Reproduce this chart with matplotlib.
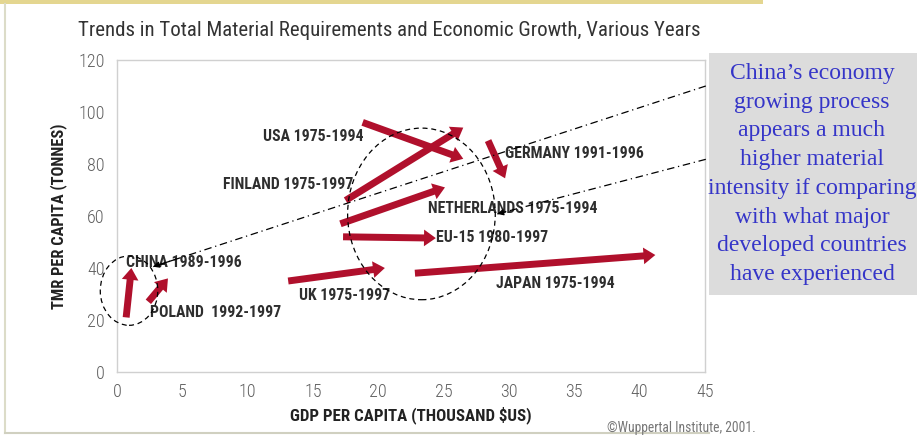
import matplotlib
matplotlib.use("Agg")
import matplotlib.pyplot as plt
from matplotlib.patches import Ellipse, FancyArrowPatch, Rectangle

# trend arrows: (GDP, TMR) at start and end of each period
countries = ["CHINA", "POLAND", "UK", "EU-15", "NETHERLANDS",
             "FINLAND", "USA", "GERMANY", "JAPAN"]
periods = ["1989-1996", "1992-1997", "1975-1997", "1980-1997", "1975-1994",
           "1975-1997", "1975-1994", "1991-1996", "1975-1994"]
gdp_start = [0.7, 2.4, 13.1, 17.3, 17.1, 17.5, 18.8, 28.4, 22.8]
gdp_end = [1.1, 3.9, 20.5, 24.4, 25.1, 26.5, 26.5, 29.7, 41.2]
tmr_start = [21, 27, 35, 52, 57, 66, 96, 89, 38]
tmr_end = [40, 36, 40, 51.5, 71, 94, 82, 74.5, 45]

# where each label sits (left edge, vertical centre)
label_pos = [(0.7, 42), (2.5, 23), (13.9, 29.5), (24.4, 51.6), (23.8, 63),
             (8.1, 72.2), (11.2, 90.6), (29.7, 84), (29.0, 34)]

x_ticks = [0, 5, 10, 15, 20, 25, 30, 35, 40, 45]
y_ticks = [0, 20, 40, 60, 80, 100, 120]

note = ("China\u2019s economy\ngrowing process\nappears a much\nhigher material\n"
        "intensity if comparing\nwith what major\ndeveloped countries\nhave experienced")

narrow = ["Roboto Condensed", "Archivo Narrow", "PT Sans Narrow",
          "IBM Plex Sans Condensed", "DejaVu Sans"]
red = "#b0102c"

fig = plt.figure(figsize=(9.17, 4.36), dpi=100)
ax = fig.add_axes([117 / 917, 64 / 436, 588 / 917, 312 / 436])

ax.set_xlim(0, 45)
ax.set_ylim(0, 120)
ax.set_xticks(x_ticks)
ax.set_yticks(y_ticks)
ax.tick_params(length=0, labelsize=13, labelcolor="#606060")
ax.tick_params(axis="y", pad=9)
ax.tick_params(axis="x", pad=8)
for lbl in ax.get_xticklabels() + ax.get_yticklabels():
    lbl.set_family(narrow)
    lbl.set_fontweight("light")
for s in ax.spines.values():
    s.set_color("#d0d0d0")
    s.set_linewidth(1)

for i, name in enumerate(countries):
    arr = FancyArrowPatch((gdp_start[i], tmr_start[i]), (gdp_end[i], tmr_end[i]),
                          arrowstyle="simple,head_length=0.85,head_width=1.2,tail_width=0.5",
                          mutation_scale=10, color=red, lw=0,
                          shrinkA=0, shrinkB=0, zorder=3)
    ax.add_patch(arr)
    sep = "  " if name == "POLAND" else " "
    ax.text(label_pos[i][0], label_pos[i][1], name + sep + periods[i],
            family=narrow, fontweight="bold", fontsize=11.3, color="#2e2e2e",
            ha="left", va="center", zorder=4)

# dashed rings round China/Poland and the developed economies
ax.add_patch(Ellipse((0.92, 31.3), 4.4, 26.7, fill=False, ls=(0, (4, 3)),
                     lw=0.9, color="black", clip_on=False, zorder=5))
ax.add_patch(Ellipse((23.3, 60.8), 11.3, 66, fill=False, ls=(0, (4, 3)),
                     lw=0.9, color="black", clip_on=False, zorder=5))

# dash-dot pointers from the note to the two rings
pointers = [((45.06, 110), (2.76, 40.5)), ((45.06, 81.8), (29.1, 60.8))]
for (x0, y0), (x1, y1) in pointers:
    ax.plot([x0, x1], [y0, y1], color="black", lw=0.9,
            ls=(0, (6, 3, 1, 3)), clip_on=False, zorder=5)
    ax.annotate("", xy=(x1, y1),
                xytext=(x1 + (x0 - x1) * 0.04, y1 + (y0 - y1) * 0.04),
                arrowprops=dict(arrowstyle="-|>", color="black", lw=0.9,
                                mutation_scale=9, shrinkA=0, shrinkB=0),
                annotation_clip=False, zorder=5)

ax.set_xlabel("GDP PER CAPITA (THOUSAND $US)", family=narrow, fontweight="bold",
              fontsize=12.2, color="#222222", labelpad=4)
ax.set_ylabel("TMR PER CAPITA (TONNES)", family=narrow, fontweight="bold",
              fontsize=11.8, color="#222222", labelpad=8)

fig.text(78 / 917, 1 - 30 / 436,
         "Trends in Total Material Requirements and Economic Growth, Various Years",
         family=narrow, fontsize=15, color="#333333", ha="left", va="center")
fig.text(607 / 917, 1 - 428 / 436, "\u00a9Wuppertal Institute, 2001.",
         family=narrow, fontsize=9.8, color="#777777", ha="left", va="center")

# page frame
fig.patches.append(Rectangle((0, 1 - 4 / 436), 763 / 917, 4 / 436,
                             transform=fig.transFigure, color="#e4d690", lw=0))
fig.lines.append(plt.Line2D([5 / 917, 5 / 917], [3 / 436, 1 - 4 / 436],
                            transform=fig.transFigure, color="#dcdcc8", lw=1.5))
fig.lines.append(plt.Line2D([5 / 917, 709 / 917], [3 / 436, 3 / 436],
                            transform=fig.transFigure, color="#d0d0c0", lw=1.5))

# grey note box
fig.patches.append(Rectangle((709 / 917, 1 - 295 / 436), 208 / 917, 242 / 436,
                             transform=fig.transFigure, color="#dcdcdc", lw=0))
fig.text(812 / 917, 1 - 174 / 436, note, family=["Liberation Serif", "DejaVu Serif"],
         fontsize=17, color="#3535c8", ha="center", va="center", linespacing=1.48)

fig.savefig("out.png", dpi=100)
